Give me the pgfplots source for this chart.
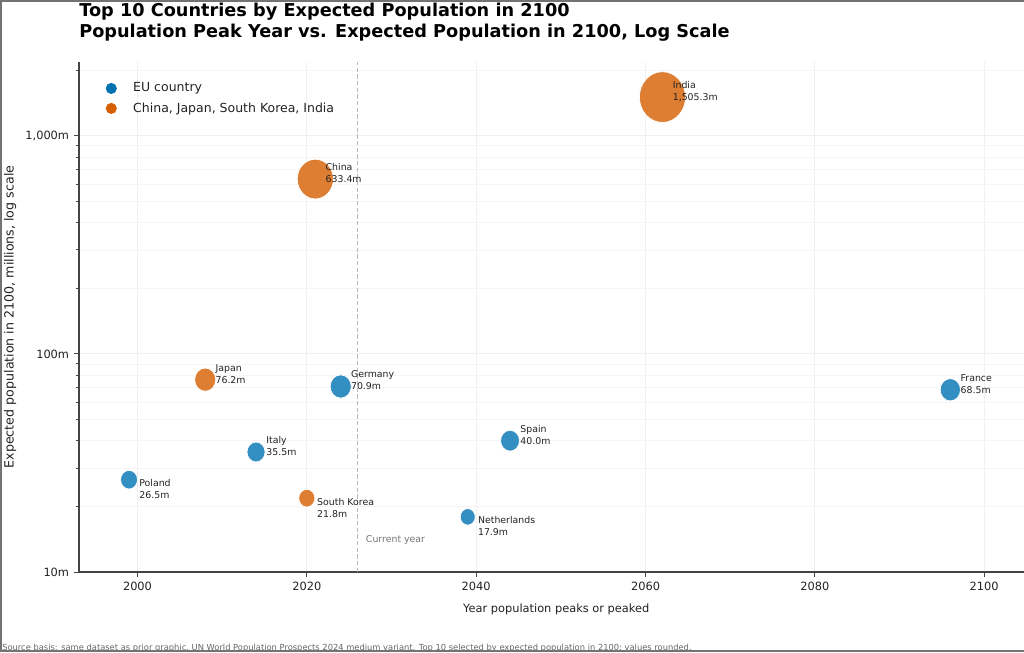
\documentclass[border=0pt]{standalone}
\usepackage{fontspec}
\setmainfont{DejaVu Sans}
\usepackage{pgfplots}
\pgfplotsset{compat=1.18}

\definecolor{eublue}{HTML}{338EC1}
\definecolor{asorange}{HTML}{DD7E33}
\definecolor{legblue}{HTML}{0072B2}
\definecolor{legorange}{HTML}{D55E00}
\definecolor{txt}{HTML}{222222}
\definecolor{spine}{HTML}{444444}

\newcommand{\tickfont}{\fontsize{8.2}{9.8}\selectfont}
\newcommand{\labfont}{\fontsize{8.2}{9.8}\selectfont}
\newcommand{\ylabfont}{\fontsize{9.1}{10.9}\selectfont}
\newcommand{\legfont}{\fontsize{9}{10.8}\selectfont}
\newcommand{\annfont}{\fontsize{6.75}{8.64}\selectfont}
\newcommand{\titfont}{\fontsize{12.75}{15}\selectfont\bfseries}
\newcommand{\srcfont}{\fontsize{6.0}{7.2}\selectfont}

% #1 colour, #2 year, #3 population (m), #4 bubble radius (pt), #5 label, #6 label yshift (pt)
\newcommand{\bubble}[6]{%
  \addplot[only marks, mark=*, mark size=#4pt, forget plot,
    mark options={draw=white, fill=#1, line width=0.5pt, yscale=1.1},
    nodes near coords={#5},
    nodes near coords style={anchor=west, align=left, font=\annfont, text=txt,
      inner sep=0pt, xshift=7.2pt, yshift=#6pt}]
    coordinates {(#2,#3)};}

\begin{document}
\begin{tikzpicture}
\begin{axis}[
  at={(0,0)}, anchor=south west,
  scale only axis, width=680.4pt, height=367.2pt,
  xmin=1993.09, xmax=2104.7,
  ymode=log, ymin=10, ymax=2180,
  axis x line*=bottom, axis y line*=left,
  axis line style={spine, line width=0.8pt},
  xtick={2000,2020,2040,2060,2080,2100},
  xticklabels={2000,2020,2040,2060,2080,2100},
  ytick={10,100,1000}, yticklabels={10m,100m,{1,000m}},
  minor ytick={20,30,40,50,60,70,80,90,200,300,400,500,600,700,800,900,2000},
  tick align=outside, major tick length=3.6pt, minor tick length=2.2pt,
  every tick/.style={spine, line width=0.6pt},
  grid=both,
  major grid style={black!6, line width=0.6pt},
  minor grid style={black!4, line width=0.5pt},
  ticklabel style={font=\tickfont, text=txt},
  xlabel={Year population peaks or peaked},
  ylabel={Expected population in 2100, millions, log scale},
  xlabel style={font=\labfont, text=txt, at={(axis description cs:0.505,-0.0725)}, anchor=center},
  ylabel style={font=\ylabfont, text=txt, at={(axis description cs:-0.073,0.5)}, anchor=center},
  legend style={at={(axis description cs:0.028,0.9597)}, anchor=north west,
    draw=none, fill=none, font=\legfont, text=txt, inner sep=0pt,
    nodes={inner sep=0pt}, row sep=6.2pt},
  legend cell align=left,
]
\addlegendimage{legend image code/.code={\path[draw=none, fill=none] (-4pt,0pt) -- (15.8pt,0pt); \fill[legblue, draw=none] (0pt,0pt) circle (4pt);}}
\addlegendentry{EU country}
\addlegendimage{legend image code/.code={\path[draw=none, fill=none] (-4pt,0pt) -- (15.8pt,0pt); \fill[legorange, draw=none] (0pt,0pt) circle (4pt);}}
\addlegendentry{China, Japan, South Korea, India}

\addplot[dash pattern=on 3pt off 1.8pt, color=black!28, line width=0.8pt, forget plot]
  coordinates {(2026,10) (2026,2180)};

% EU countries
\bubble{eublue}{1999}{26.5}{6.1}{Poland\\26.5m}{-6.84}
\bubble{eublue}{2014}{35.5}{6.5}{Italy\\35.5m}{4.32}
\bubble{eublue}{2024}{70.9}{7.6}{Germany\\70.9m}{4.32}
\bubble{eublue}{2039}{17.9}{5.4}{Netherlands\\17.9m}{-6.84}
\bubble{eublue}{2044}{40.0}{6.8}{Spain\\40.0m}{4.32}
\bubble{eublue}{2096}{68.5}{7.3}{France\\68.5m}{4.32}
% China, Japan, South Korea, India
\bubble{asorange}{2008}{76.2}{7.6}{Japan\\76.2m}{4.32}
\bubble{asorange}{2020}{21.8}{5.8}{South Korea\\21.8m}{-6.84}
\bubble{asorange}{2021}{633.4}{13.0}{China\\633.4m}{4.32}
\bubble{asorange}{2062}{1505.3}{16.6}{India\\1,505.3m}{4.32}

\node[anchor=west, font=\annfont, text=black!55, xshift=5.8pt, inner sep=0pt]
  at (axis cs:2026,14) {Current year};
\end{axis}

\node[anchor=base west, font=\titfont, text=black, inner sep=0pt] at (0pt,399.6pt)
  {Top 10 Countries by Expected Population in 2100};
\node[anchor=base west, font=\titfont, text=black, inner sep=0pt] at (0pt,384.5pt)
  {Population Peak Year vs. Expected Population in 2100, Log Scale};
\node[anchor=base west, font=\srcfont, text=black!60, inner sep=0pt] at (-55.44pt,-56.6pt)
  {Source basis: same dataset as prior graphic, UN World Population Prospects 2024 medium variant. Top 10 selected by expected population in 2100; values rounded.};

\draw[black!55, line width=1.2pt] (680.4pt,411.24pt) -- (-56.28pt,411.24pt) -- (-56.28pt,-57.0pt) -- (680.4pt,-57.0pt);
\pgfresetboundingbox
\path[use as bounding box] (-56.88pt,-57.6pt) rectangle (680.4pt,411.84pt);
\end{tikzpicture}
\end{document}
